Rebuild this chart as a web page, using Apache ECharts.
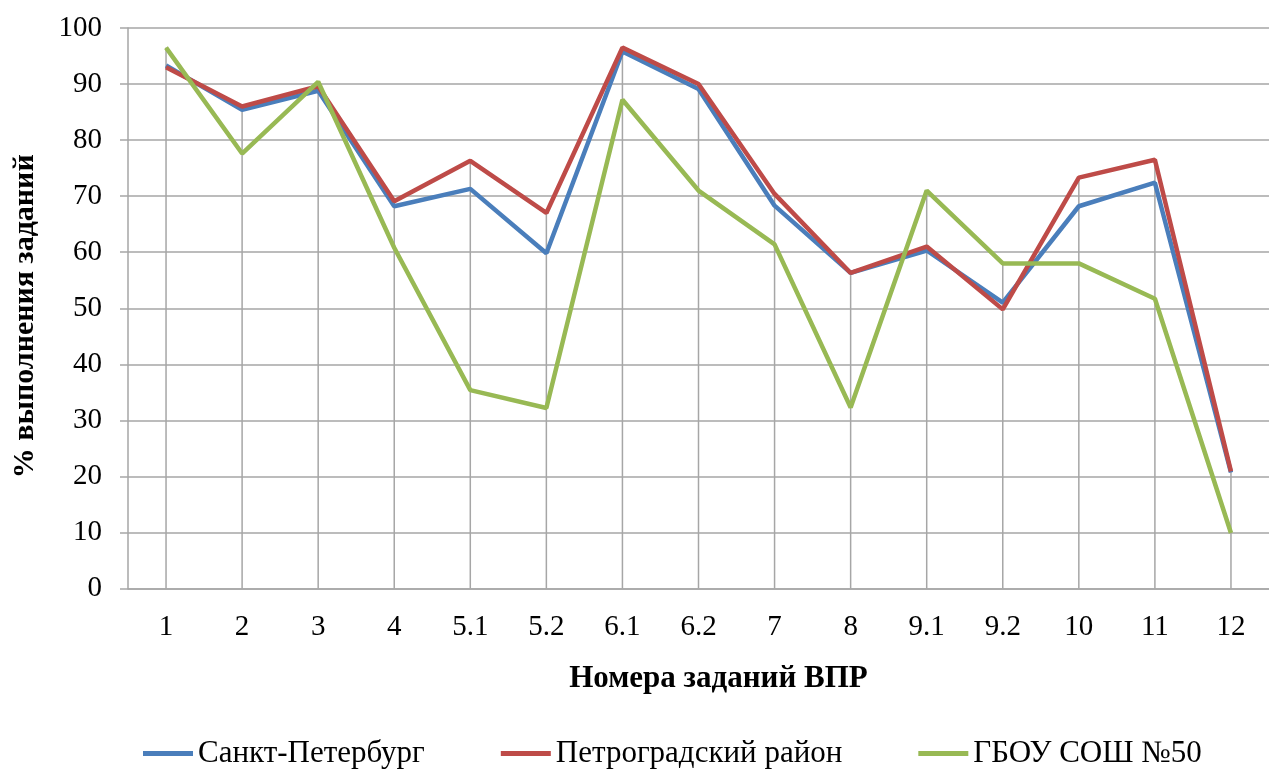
<!DOCTYPE html>
<html>
<head>
<meta charset="utf-8">
<script src="https://cdn.jsdelivr.net/npm/echarts@6/dist/echarts.min.js"></script>
<style>
  html, body { margin: 0; padding: 0; background: #fff; }
  #chart { width: 1269px; height: 769px; }
</style>
</head>
<body>
<div id="chart"></div>
<script>
// номера заданий ВПР
const tasks = ['1', '2', '3', '4', '5.1', '5.2', '6.1', '6.2', '7', '8', '9.1', '9.2', '10', '11', '12'];
// % выполнения
const spb = [93.3, 85.4, 88.8, 68.2, 71.3, 59.8, 95.8, 89.1, 68.3, 56.3, 60.3, 51.0, 68.2, 72.4, 20.7];
const petrograd = [93.0, 86.0, 89.6, 69.1, 76.3, 67.0, 96.5, 90.0, 70.4, 56.3, 61.0, 49.8, 73.3, 76.5, 20.9];
const school50 = [96.5, 77.6, 90.4, 60.8, 35.4, 32.2, 87.2, 71.0, 61.4, 32.3, 71.0, 58.0, 58.0, 51.7, 9.9];

// drop lines go from the highest point down to the axis
const dropLines = tasks.map((t, i) => Math.max(spb[i], petrograd[i], school50[i]));

const font = '"Liberation Serif", "Times New Roman", serif';
const gray = '#a6a6a6';

const chart = echarts.init(document.getElementById('chart'));

chart.setOption({
  animation: false,
  textStyle: { fontFamily: font },
  grid: { left: 128, top: 28, width: 1145, bottom: 180.5 },
  legend: {
    left: 138,
    top: 733,
    itemWidth: 50,
    itemHeight: 5,
    itemGap: 76,
    icon: 'rect',
    textStyle: { fontFamily: font, fontSize: 31, color: '#000' },
    data: ['Санкт-Петербург', 'Петроградский район', 'ГБОУ СОШ №50']
  },
  xAxis: {
    type: 'category',
    data: tasks,
    boundaryGap: true,
    name: 'Номера заданий ВПР',
    nameLocation: 'middle',
    nameGap: 75,
    nameTextStyle: { fontFamily: font, fontSize: 31, fontWeight: 'bold', color: '#000', padding: [0, 0, 0, 40] },
    axisLine: { lineStyle: { color: gray, width: 1.5 } },
    axisTick: { length: 8, lineStyle: { color: gray, width: 1.5 } },
    axisLabel: { interval: 0, margin: 24, fontFamily: font, fontSize: 29, color: '#000' },
    splitLine: { show: false }
  },
  yAxis: {
    type: 'value',
    min: 0,
    max: 100,
    interval: 10,
    name: '% выполнения заданий',
    nameLocation: 'middle',
    nameGap: 88,
    nameTextStyle: { fontFamily: font, fontSize: 30, fontWeight: 'bold', color: '#000', padding: [0, 16, 0, 0] },
    axisLine: { show: true, lineStyle: { color: gray, width: 1.5 } },
    axisTick: { show: true, length: 8, lineStyle: { color: gray, width: 1.5 } },
    axisLabel: { margin: 26, fontFamily: font, fontSize: 29, color: '#000' },
    splitLine: { lineStyle: { color: gray, width: 1.5 } }
  },
  series: [
    {
      name: 'drop',
      type: 'bar',
      silent: true,
      barWidth: 1.5,
      itemStyle: { color: gray },
      data: dropLines,
      z: 1
    },
    {
      name: 'Санкт-Петербург',
      type: 'line',
      data: spb,
      showSymbol: false,
      symbol: 'none',
      lineStyle: { color: '#4a7ebb', width: 4.5 },
      itemStyle: { color: '#4a7ebb' },
      z: 3
    },
    {
      name: 'Петроградский район',
      type: 'line',
      data: petrograd,
      showSymbol: false,
      symbol: 'none',
      lineStyle: { color: '#be4b48', width: 4.5 },
      itemStyle: { color: '#be4b48' },
      z: 4
    },
    {
      name: 'ГБОУ СОШ №50',
      type: 'line',
      data: school50,
      showSymbol: false,
      symbol: 'none',
      lineStyle: { color: '#98b954', width: 4.5 },
      itemStyle: { color: '#98b954' },
      z: 5
    }
  ]
});
</script>
</body>
</html>
